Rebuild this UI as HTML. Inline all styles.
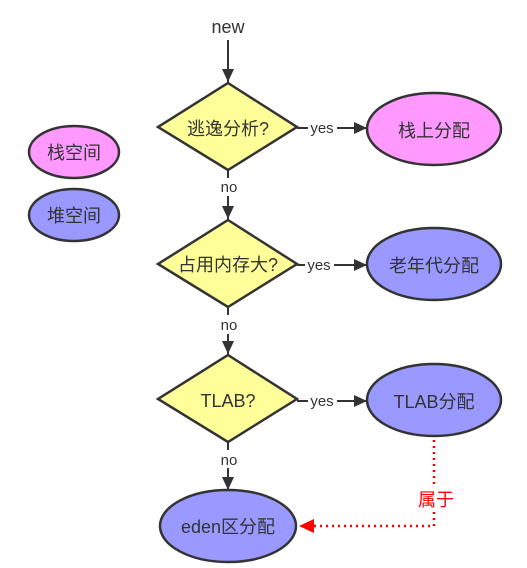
<!DOCTYPE html>
<html><head><meta charset="utf-8"><style>
html,body{margin:0;padding:0;background:#fff;width:527px;height:568px;overflow:hidden}
text{font-family:"Liberation Sans","Noto Sans CJK SC",sans-serif;fill:#333}
</style></head><body>
<svg width="527" height="568" viewBox="0 0 527 568" xmlns="http://www.w3.org/2000/svg">
<defs>
<marker id="a" markerWidth="14" markerHeight="14" refX="13" refY="6" orient="auto" markerUnits="userSpaceOnUse"><path d="M0,0 L13,6 L0,12 z" fill="#333"/></marker>
<marker id="r" markerWidth="16" markerHeight="14" refX="15" refY="7" orient="auto" markerUnits="userSpaceOnUse"><path d="M0,0 L15,7 L0,14 z" fill="#f00"/></marker>
</defs>
<g stroke="#333" stroke-width="2" fill="none">
<line x1="228" y1="40" x2="228" y2="82" marker-end="url(#a)"/>
<line x1="228" y1="170" x2="228" y2="178"/><line x1="228" y1="196" x2="228" y2="219" marker-end="url(#a)"/>
<line x1="228" y1="307" x2="228" y2="315"/><line x1="228" y1="334" x2="228" y2="354" marker-end="url(#a)"/>
<line x1="228" y1="442" x2="228" y2="450"/><line x1="228" y1="468" x2="228" y2="490" marker-end="url(#a)"/>
<line x1="297" y1="128" x2="308" y2="128"/><line x1="337" y1="128" x2="367" y2="128" marker-end="url(#a)"/>
<line x1="297" y1="265" x2="305" y2="265"/><line x1="334" y1="265" x2="367" y2="265" marker-end="url(#a)"/>
<line x1="297" y1="401" x2="308" y2="401"/><line x1="337" y1="401" x2="367" y2="401" marker-end="url(#a)"/>
</g>
<g stroke="#f00" stroke-width="2.5" stroke-dasharray="2,4" fill="none">
<polyline points="434,434 434,486"/><polyline points="434,512 434,526 299,526" marker-end="url(#r)"/>
</g>
<g stroke="#333" stroke-width="2.5" fill="#ffff99">
<polygon points="228,83 297,127 228,170 158,127"/>
<polygon points="228,220 297,264 228,307 158,264"/>
<polygon points="228,355 297,399 228,442 158,399"/>
</g>
<g stroke="#333" stroke-width="2.5">
<ellipse cx="434" cy="129" rx="67" ry="36" fill="#ff99ff"/>
<ellipse cx="434" cy="264" rx="67" ry="36" fill="#9999ff"/>
<ellipse cx="434" cy="400" rx="67" ry="36" fill="#9999ff"/>
<ellipse cx="228" cy="526" rx="68" ry="36" fill="#9999ff"/>
<ellipse cx="74" cy="152" rx="45" ry="26" fill="#ff99ff"/>
<ellipse cx="74" cy="215" rx="45" ry="26" fill="#9999ff"/>
</g>
<g font-size="18" text-anchor="middle">
<text x="228" y="33">new</text>
<text x="228" y="135">逃逸分析?</text>
<text x="228" y="271">占用内存大?</text>
<text x="228" y="407">TLAB?</text>
<text x="434" y="137">栈上分配</text>
<text x="434" y="272">老年代分配</text>
<text x="434" y="408">TLAB分配</text>
<text x="228" y="533">eden区分配</text>
<text x="74" y="159">栈空间</text>
<text x="74" y="222">堆空间</text>
<text x="436" y="506" style="fill:#f00">属于</text>
</g>
<g font-size="15" text-anchor="middle">
<text x="322" y="133">yes</text>
<text x="319" y="270">yes</text>
<text x="322" y="406">yes</text>
<text x="229" y="192">no</text>
<text x="229" y="330">no</text>
<text x="229" y="465">no</text>
</g>
</svg>
</body></html>
